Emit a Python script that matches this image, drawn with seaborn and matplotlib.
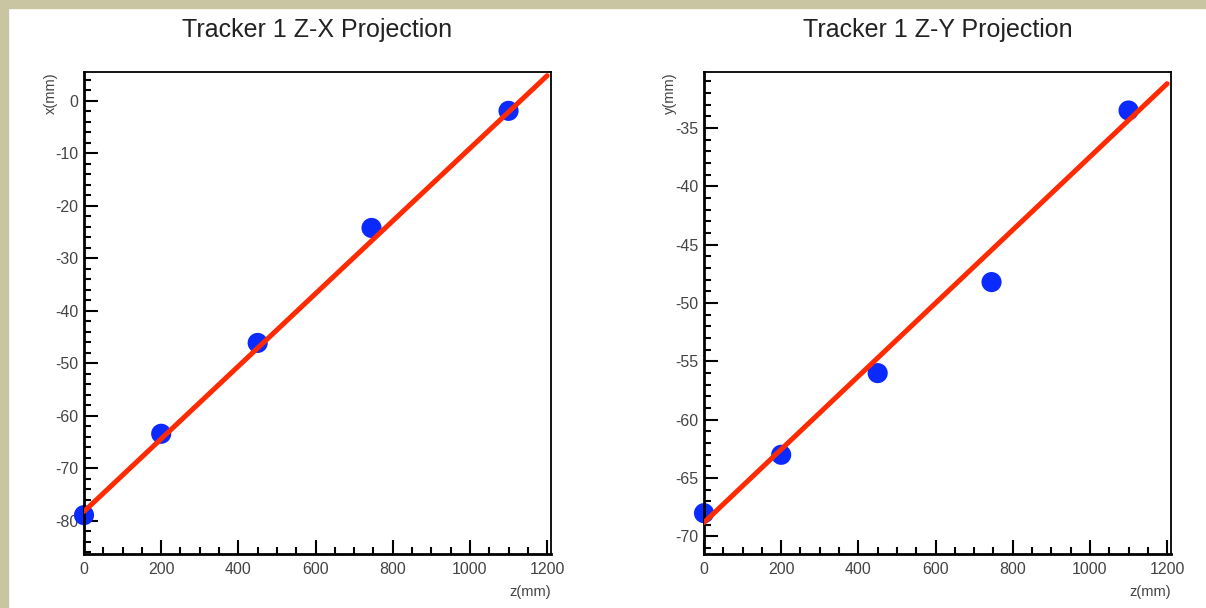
import matplotlib
matplotlib.use("Agg")
import matplotlib.pyplot as plt
from matplotlib.patches import Rectangle
from matplotlib.ticker import MultipleLocator
import seaborn as sns
import pandas as pd

# hit positions along the beam (mm)
z_hits = [0, 200, 450, 745, 1100]
x_hits = [-78.9, -63.4, -46.1, -24.2, -1.9]
y_hits = [-68.0, -63.0, -56.0, -48.2, -33.5]

# straight-line fit endpoints
fit_z = [0, 1200]
fit_x = [-78.2, 4.8]
fit_y = [-68.8, -31.2]

titles = ["Tracker 1 Z-X Projection", "Tracker 1 Z-Y Projection"]
ylabels = ["x(mm)", "y(mm)"]
ylims = [(-86.3, 5.5), (-71.5, -30.2)]
y_major = [10, 5]
y_minor = [2, 1]

sns.set_theme(style="white")
plt.rcParams['font.family'] = ['Liberation Sans', 'DejaVu Sans']
plt.rcParams['axes.unicode_minus'] = False

fig = plt.figure(figsize=(12.06, 6.08), dpi=100)
fig.patch.set_facecolor("white")
# beige border strips from the original page
fig.patches.append(Rectangle((0, 0), 8 / 1206, 1, transform=fig.transFigure,
                             color="#c9c5a2", zorder=0))
fig.patches.append(Rectangle((0, 1 - 8 / 608), 1, 8 / 608, transform=fig.transFigure,
                             color="#c9c5a2", zorder=0))

hits = [x_hits, y_hits]
fits = [fit_x, fit_y]
lefts = [84, 704]

for i in range(2):
    ax = fig.add_axes([lefts[i] / 1206, (608 - 554) / 608, 467 / 1206, 482 / 608])
    pts = pd.DataFrame({"z": z_hits, "v": hits[i]})
    fit = pd.DataFrame({"z": fit_z, "v": fits[i]})
    sns.lineplot(data=fit, x="z", y="v", ax=ax, color="#ff2a00", linewidth=3.6, zorder=3)
    sns.scatterplot(data=pts, x="z", y="v", ax=ax, color="#0a2aff", s=210,
                    edgecolor="none", zorder=2, clip_on=False)

    ax.set_xlim(0, 1210)
    ax.set_ylim(*ylims[i])
    ax.xaxis.set_major_locator(MultipleLocator(200))
    ax.xaxis.set_minor_locator(MultipleLocator(50))
    ax.yaxis.set_major_locator(MultipleLocator(y_major[i]))
    ax.yaxis.set_minor_locator(MultipleLocator(y_minor[i]))
    ax.tick_params(which="both", direction="in", left=True, bottom=True,
                   top=False, right=False, color="black", width=1.5,
                   labelsize=11.5, labelcolor="#444444")
    ax.tick_params(which="major", length=10)
    ax.tick_params(which="minor", length=5)
    ax.tick_params(axis="y", pad=4)
    ax.tick_params(axis="x", pad=6)

    for side in ["left", "bottom"]:
        ax.spines[side].set_linewidth(2)
        ax.spines[side].set_color("black")
    for side in ["top", "right"]:
        ax.spines[side].set_linewidth(1.3)
        ax.spines[side].set_color("black")

    ax.set_xlabel("")
    ax.set_ylabel("")
    ax.text(1.0, -0.065, "z(mm)", transform=ax.transAxes, ha="right", va="top",
            fontsize=10.5, color="#444444")
    ax.text(-0.072, 1.0, ylabels[i], transform=ax.transAxes, ha="center", va="top",
            rotation=90, fontsize=10.5, color="#444444")
    fig.text((lefts[i] + 233.5) / 1206, 1 - 30 / 608, titles[i], ha="center",
             va="center", fontsize=18, color="#222222")

fig.savefig("out.png", dpi=100, facecolor=fig.get_facecolor())
